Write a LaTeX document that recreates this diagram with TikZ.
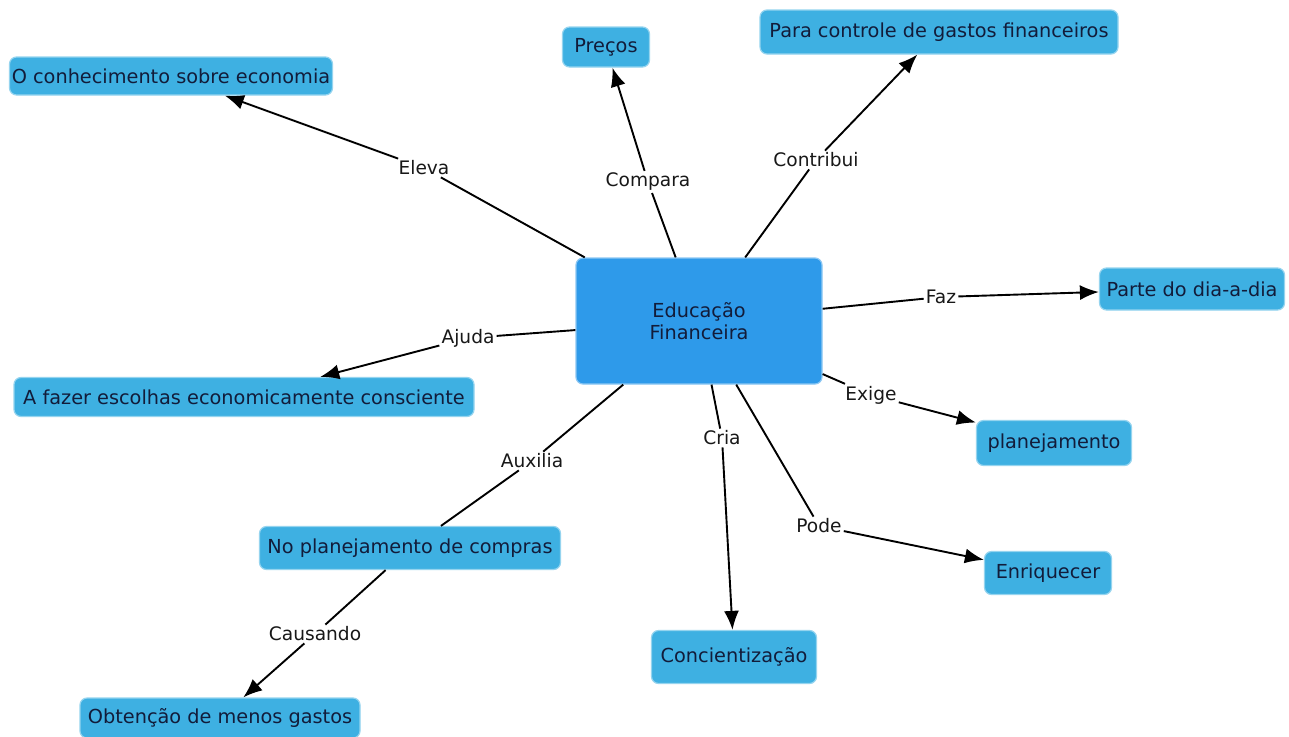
\documentclass[tikz,border=0pt]{standalone}
\usepackage{fontspec}
\setmainfont{DejaVu Sans}
\usetikzlibrary{arrows.meta}
\definecolor{boxblue}{RGB}{62,176,226}
\definecolor{coreblue}{RGB}{46,154,234}
\definecolor{boxtext}{RGB}{18,28,58}
\definecolor{linkgray}{RGB}{24,24,24}
\begin{document}
\begin{tikzpicture}[x=1pt,y=-1pt,
  concept/.style={fill=boxblue, draw=boxblue!55!white, line width=1.2pt,
    rounded corners=7pt, text=boxtext, font=\fontsize{19.3}{22}\selectfont,
    inner sep=2pt, align=center},
  core/.style={concept, fill=coreblue, draw=coreblue!55!white},
  link/.style={text=linkgray, font=\fontsize{18.6}{21}\selectfont, inner sep=2pt},
  conn/.style={draw=black, line width=1.9pt},
  arr/.style={conn, -{Latex[length=19pt,width=15pt]}}]
\useasboundingbox (0,0) rectangle (1289,736);
\fill[white] (0,0) rectangle (1289,736);

% concepts
\node[core, minimum width=246pt, minimum height=126pt] (edu) at (699,321) {Educação\\Financeira};
\node[concept, minimum width=323pt, minimum height=38pt] (conhec) at (171,76) {O conhecimento sobre economia};
\node[concept, minimum width=87pt, minimum height=40pt] (precos) at (606,47) {Preços};
\node[concept, minimum width=358pt, minimum height=44pt] (controle) at (939,32) {Para controle de gastos financeiros};
\node[concept, minimum width=185pt, minimum height=42pt] (parte) at (1192,289) {Parte do dia-a-dia};
\node[concept, minimum width=460pt, minimum height=39pt] (fazer) at (244,397) {A fazer escolhas economicamente consciente};
\node[concept, minimum width=155pt, minimum height=45pt] (planej) at (1054,443) {planejamento};
\node[concept, minimum width=301pt, minimum height=43pt] (noplan) at (410,548) {No planejamento de compras};
\node[concept, minimum width=127pt, minimum height=43pt] (enriq) at (1048,573) {Enriquecer};
\node[concept, minimum width=165pt, minimum height=53pt] (concient) at (734,657) {Concientização};
\node[concept, minimum width=280pt, minimum height=40pt] (obtencao) at (220,718) {Obtenção de menos gastos};

% linking phrases
\node[link] (eleva) at (424,168) {Eleva};
\node[link] (compara) at (648,182) {Compara};
\node[link] (contribui) at (816,160) {Contribui};
\node[link] (faz) at (941,297) {Faz};
\node[link] (ajuda) at (468,338) {Ajuda};
\node[link] (exige) at (871,395) {Exige};
\node[link] (cria) at (722,438) {Cria};
\node[link] (auxilia) at (532,461) {Auxilia};
\node[link] (pode) at (819,526) {Pode};
\node[link] (causando) at (315,634) {Causando};

% connectors
\draw[conn] (edu) -- (eleva);     \draw[arr] (eleva) -- (conhec);
\draw[conn] (edu) -- (compara);   \draw[arr] (compara) -- (precos);
\draw[conn] (edu) -- (contribui); \draw[arr] (contribui) -- (controle);
\draw[conn] (edu) -- (faz);       \draw[arr] (faz) -- (parte);
\draw[conn] (edu) -- (ajuda);     \draw[arr] (ajuda) -- (fazer);
\draw[conn] (edu) -- (exige);     \draw[arr] (exige) -- (planej);
\draw[conn] (edu) -- (cria);      \draw[arr] (cria) -- (concient);
\draw[conn] (edu) -- (auxilia);   \draw[conn] (auxilia) -- (noplan);
\draw[conn] (edu) -- (pode);      \draw[arr] (pode) -- (enriq);
\draw[conn] (noplan) -- (causando); \draw[arr] (causando) -- (obtencao);
\end{tikzpicture}
\end{document}
